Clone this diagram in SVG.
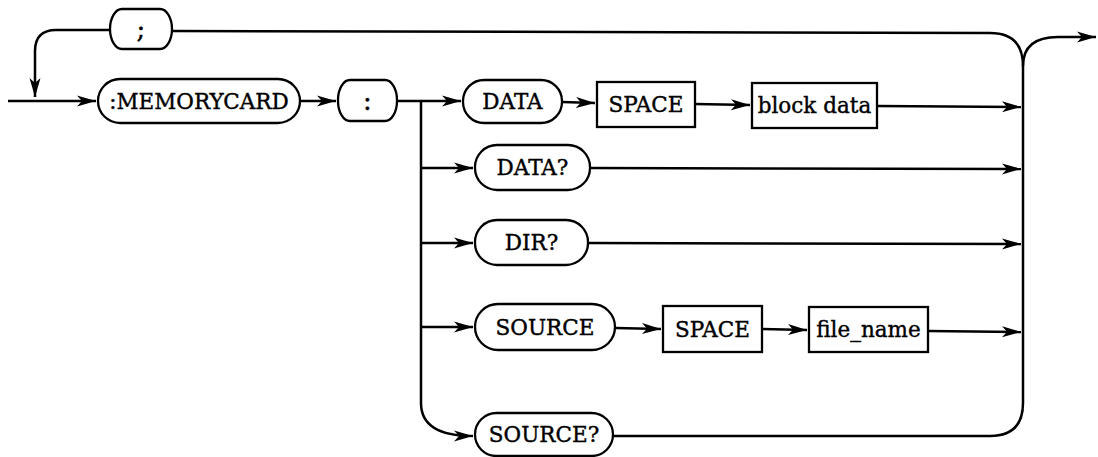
<svg xmlns="http://www.w3.org/2000/svg" width="1098" height="457" viewBox="0 0 1098 457">
<style>
.n{fill:#fff;stroke:#000;stroke-width:2.3}
.t{font-family:"DejaVu Serif","Liberation Serif",serif;font-size:21.5px;fill:#000;stroke:#000;stroke-width:0.4;text-anchor:middle;dominant-baseline:central}
.p{font-size:26px}
.c{fill:none;stroke:#000;stroke-width:2.5}
</style>
<defs>
<marker id="a" markerUnits="userSpaceOnUse" markerWidth="20" markerHeight="12" refX="19" refY="6" orient="auto">
<path d="M0,0.5 L19,6 L0,11.5 L5,6 Z" fill="#000"/>
</marker>
</defs>
<g id="connectors">
<path class="c" d="M8,101 L96,101" marker-end="url(#a)"/>
<path class="c" d="M110,30 L56,30 Q35,30 35,51 L35,97" marker-end="url(#a)"/>
<path class="c" d="M172,31 L990,33 Q1023,33 1023,66"/>
<path class="c" d="M1023,66 Q1023,37 1058,37 L1096,37" marker-end="url(#a)"/>
<path class="c" d="M1023,66 L1023,403 Q1023,436 990,436 L613,436"/>
<path class="c" d="M300,101 L336,101" marker-end="url(#a)"/>
<path class="c" d="M397,101 L461,101" marker-end="url(#a)"/>
<path class="c" d="M421,101 L421,403 Q421,436 473,436" marker-end="url(#a)"/>
<path class="c" d="M421,168 L473,168" marker-end="url(#a)"/>
<path class="c" d="M421,243 L473,243" marker-end="url(#a)"/>
<path class="c" d="M421,327 L473,327" marker-end="url(#a)"/>
<path class="c" d="M562,102 L595,103" marker-end="url(#a)"/>
<path class="c" d="M695,104 L750,105" marker-end="url(#a)"/>
<path class="c" d="M877,106 L1021,107" marker-end="url(#a)"/>
<path class="c" d="M590,168 L1021,169" marker-end="url(#a)"/>
<path class="c" d="M588,243 L1021,244" marker-end="url(#a)"/>
<path class="c" d="M615,328 L661,329" marker-end="url(#a)"/>
<path class="c" d="M762,329 L807,330" marker-end="url(#a)"/>
<path class="c" d="M928,331 L1021,332" marker-end="url(#a)"/>
</g>
<g id="semicolon"><rect class="n" x="110" y="9" width="62" height="40" rx="12" ry="20"/><text class="t p" x="141" y="29">;</text></g>
<g id="memorycard"><rect class="n" x="98" y="79" width="202" height="44" rx="22" ry="22"/><text class="t" x="199" y="101">:MEMORYCARD</text></g>
<g id="colon"><rect class="n" x="338" y="80" width="59" height="41" rx="12" ry="20"/><text class="t p" x="367.5" y="100.5">:</text></g>
<g id="data"><rect class="n" x="463" y="80" width="99" height="43" rx="21" ry="21"/><text class="t" x="512.5" y="101.5">DATA</text></g>
<g id="space1"><rect class="n" x="597" y="82" width="98" height="45"/><text class="t" x="646" y="104.5">SPACE</text></g>
<g id="blockdata"><rect class="n" x="752" y="83" width="125" height="45"/><text class="t" x="814.5" y="105.5">block data</text></g>
<g id="dataq"><rect class="n" x="475" y="145" width="115" height="45" rx="22" ry="22"/><text class="t" x="532.5" y="167.5">DATA?</text></g>
<g id="dirq"><rect class="n" x="475" y="220" width="113" height="45" rx="22" ry="22"/><text class="t" x="531.5" y="242.5">DIR?</text></g>
<g id="source"><rect class="n" x="475" y="304" width="140" height="46" rx="23" ry="23"/><text class="t" x="545" y="327">SOURCE</text></g>
<g id="space2"><rect class="n" x="663" y="306" width="99" height="46"/><text class="t" x="712.5" y="329">SPACE</text></g>
<g id="filename"><rect class="n" x="809" y="307" width="119" height="45"/><text class="t" x="868.5" y="329.5">file_name</text></g>
<g id="sourceq"><rect class="n" x="475" y="413" width="138" height="43" rx="21.5" ry="21.5"/><text class="t" x="544" y="434.5">SOURCE?</text></g>
</svg>
